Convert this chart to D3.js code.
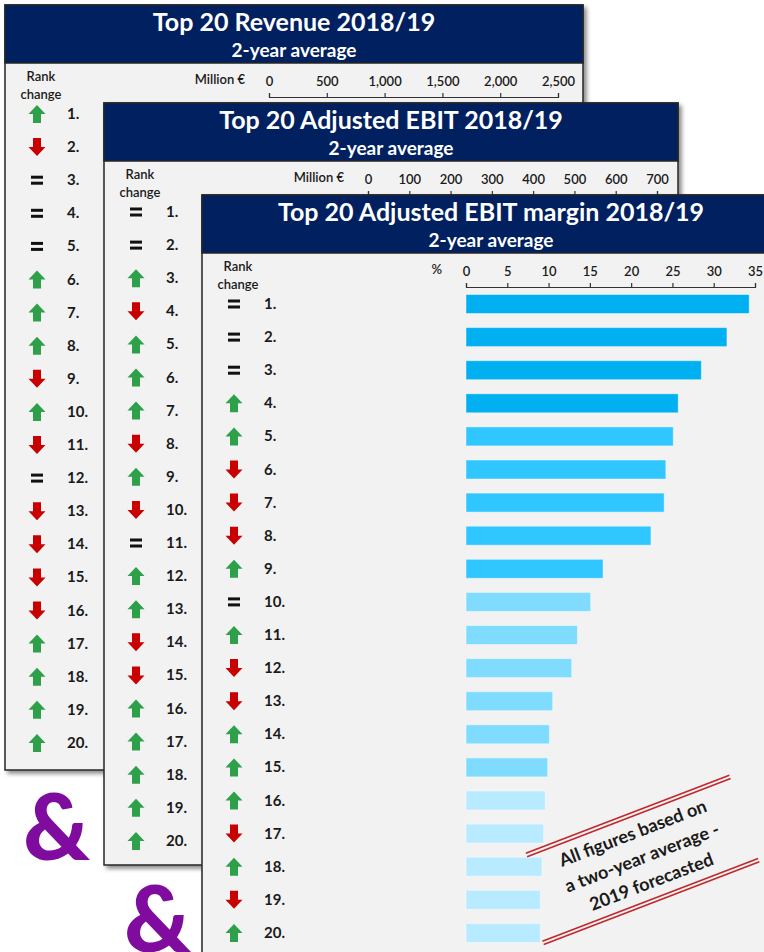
<!DOCTYPE html>
<meta charset="utf-8">
<style>
body { margin: 0; background: #fff; }
svg { display: block; font-family: Lato, "Open Sans", sans-serif; }
.axis path, .axis line { stroke: #333; stroke-width: 1.2px; }
.axis text { font-size: 13px; font-weight: 600; fill: #1a1a1a; font-family: Lato, sans-serif; }
</style>
<body>
<svg width="764" height="952"></svg>
<script src="https://cdn.jsdelivr.net/npm/d3@7/dist/d3.min.js"></script>
<script>

// rank change per position (1..20)
var revenueChange = ["up","down","same","same","same","up","up","up","down","up",
                     "down","same","down","down","down","down","up","up","up","up"];
var ebitChange    = ["same","same","up","down","up","up","up","down","up","down",
                     "same","up","up","down","down","up","up","up","up","up"];
var marginChange  = ["same","same","same","up","up","down","down","down","up","same",
                     "up","down","down","up","up","up","down","up","down","up"];

// adjusted EBIT margin, %, 2-year average
var marginValues = [34.3, 31.6, 28.5, 25.7, 25.1, 24.2, 24.0, 22.4, 16.6, 15.1,
                    13.5, 12.8, 10.5, 10.1, 9.9, 9.6, 9.4, 9.2, 9.0, 9.0];

var revenueTicks = [0, 500, 1000, 1500, 2000, 2500];
var ebitTicks    = [0, 100, 200, 300, 400, 500, 600, 700];
var marginTicks  = [0, 5, 10, 15, 20, 25, 30, 35];

var ranks = d3.range(1, 21);

var svg = d3.select("svg");

var defs = svg.append("defs");
var shadow = defs.append("filter").attr("id", "shadow")
    .attr("x", "-5%").attr("y", "-5%").attr("width", "115%").attr("height", "115%");
shadow.append("feDropShadow")
    .attr("dx", 3).attr("dy", 3).attr("stdDeviation", 2)
    .attr("flood-color", "#000").attr("flood-opacity", 0.45);

// bar colour steps by value
var barColor = d3.scaleThreshold()
    .domain([9.75, 15.8, 25.4])
    .range(["#b8ebff", "#80dcff", "#30c6ff", "#00b0f0"]);

function arrowPath(kind) {
  if (kind == "up") return "M0,-9L8.5,0L4,0L4,9L-4,9L-4,0L-8.5,0Z";
  return "M0,9L8.5,0L4,0L4,-9L-4,-9L-4,0L-8.5,0Z";
}

function drawPanel(p) {
  var g = svg.append("g").attr("transform", "translate(" + p.x + "," + p.y + ")");

  g.append("rect")
      .attr("width", p.w).attr("height", p.h)
      .attr("fill", "#f2f2f2")
      .attr("stroke", "#262626").attr("stroke-width", 1.5)
      .attr("filter", "url(#shadow)");

  g.append("rect")
      .attr("width", p.w).attr("height", 58)
      .attr("fill", "#002060")
      .attr("stroke", "#262626").attr("stroke-width", 1.5);

  g.append("text")
      .attr("x", p.w / 2).attr("y", 26)
      .attr("text-anchor", "middle")
      .style("font-size", "25px").style("font-weight", 700)
      .attr("fill", "#fff")
      .text(p.title);

  g.append("text")
      .attr("x", p.w / 2).attr("y", 52)
      .attr("text-anchor", "middle")
      .style("font-size", "19px").style("font-weight", 700)
      .attr("fill", "#fff")
      .text("2-year average");

  g.append("text")
      .attr("x", 36).attr("y", 76)
      .attr("text-anchor", "middle")
      .style("font-size", "13px").style("font-weight", 600)
      .attr("fill", "#1a1a1a")
      .text("Rank");
  g.append("text")
      .attr("x", 36).attr("y", 94)
      .attr("text-anchor", "middle")
      .style("font-size", "13px").style("font-weight", 600)
      .attr("fill", "#1a1a1a")
      .text("change");

  g.append("text")
      .attr("x", 240).attr("y", 79)
      .attr("text-anchor", "end")
      .style("font-size", "13px").style("font-weight", 600)
      .attr("fill", "#1a1a1a")
      .text(p.unit);

  var x = d3.scaleLinear()
      .domain([0, p.ticks[p.ticks.length - 1]])
      .range([264, 553]);

  var y = d3.scalePoint()
      .domain(ranks)
      .range([109, 109 + 19 * 33.1]);

  g.append("g")
      .attr("class", "axis")
      .attr("transform", "translate(0,92)")
      .call(d3.axisTop(x).tickValues(p.ticks).tickFormat(p.format)
            .tickSize(4).tickSizeOuter(4).tickPadding(7));

  if (p.values) {
    g.selectAll(".bar")
      .data(p.values)
      .enter().append("rect")
        .attr("class", "bar")
        .attr("x", x(0))
        .attr("y", function(d, i) { return y(ranks[i]) - 9.5; })
        .attr("width", function(d) { return x(d) - x(0); })
        .attr("height", 19)
        .attr("fill", function(d) { return barColor(d); })
        .attr("stroke", "#ffffff").attr("stroke-opacity", 0.45).attr("stroke-width", 1);
  }

  var rows = g.selectAll(".row")
      .data(p.changes)
      .enter().append("g")
        .attr("class", "row")
        .attr("transform", function(d, i) { return "translate(0," + y(ranks[i]) + ")"; });

  rows.filter(function(d) { return d != "same"; })
    .append("path")
      .attr("transform", "translate(32,0)")
      .attr("d", arrowPath)
      .attr("fill", function(d) { return d == "up" ? "#2ea04a" : "#c80000"; });

  var eq = rows.filter(function(d) { return d == "same"; });
  eq.append("rect").attr("x", 26).attr("y", -4.5).attr("width", 12).attr("height", 3).attr("fill", "#111");
  eq.append("rect").attr("x", 26).attr("y", 1.5).attr("width", 12).attr("height", 3).attr("fill", "#111");

  rows.append("text")
      .attr("x", 62).attr("y", 5)
      .style("font-size", "15px").style("font-weight", 700)
      .attr("fill", "#1a1a1a")
      .text(function(d, i) { return ranks[i] + "."; });
}

drawPanel({x: 5, y: 5, w: 578, h: 765, title: "Top 20 Revenue 2018/19",
           unit: "Million €", ticks: revenueTicks, format: d3.format(","),
           changes: revenueChange});

drawPanel({x: 104, y: 103, w: 574, h: 762, title: "Top 20 Adjusted EBIT 2018/19",
           unit: "Million €", ticks: ebitTicks, format: d3.format("d"),
           changes: ebitChange});

drawPanel({x: 202, y: 195, w: 578, h: 780, title: "Top 20 Adjusted EBIT margin 2018/19",
           unit: "%", ticks: marginTicks, format: d3.format("d"),
           changes: marginChange, values: marginValues});

// the rotated note in the bottom right
var stamp = svg.append("g").attr("transform", "translate(644,857) rotate(-21)");

[[-109, 109, -44], [-125, 106, 44]].forEach(function(l) {
  [-1.8, 1.8].forEach(function(o) {
    stamp.append("line")
        .attr("x1", l[0]).attr("x2", l[1])
        .attr("y1", l[2] + o).attr("y2", l[2] + o)
        .attr("stroke", "#c0282d").attr("stroke-width", 1.6);
  });
});

var noteLines = ["All figures based on", "a two-year average -", "2019 forecasted"];
stamp.selectAll(".note")
  .data(noteLines)
  .enter().append("text")
    .attr("class", "note")
    .attr("x", -2)
    .attr("y", function(d, i) { return -20 + i * 26; })
    .attr("text-anchor", "middle")
    .style("font-size", "18px").style("font-weight", 700)
    .attr("fill", "#1a1a1a")
    .text(function(d) { return d; });

// ampersands between panels (the lower one runs off the page, as in the original)
[[23, 860], [124, 952]].forEach(function(a) {
  svg.append("text")
      .attr("x", a[0]).attr("y", a[1])
      .style("font-size", "92px").style("font-weight", 900)
      .attr("fill", "#7f0c9f")
      .text("&");
});

</script>
</body>
